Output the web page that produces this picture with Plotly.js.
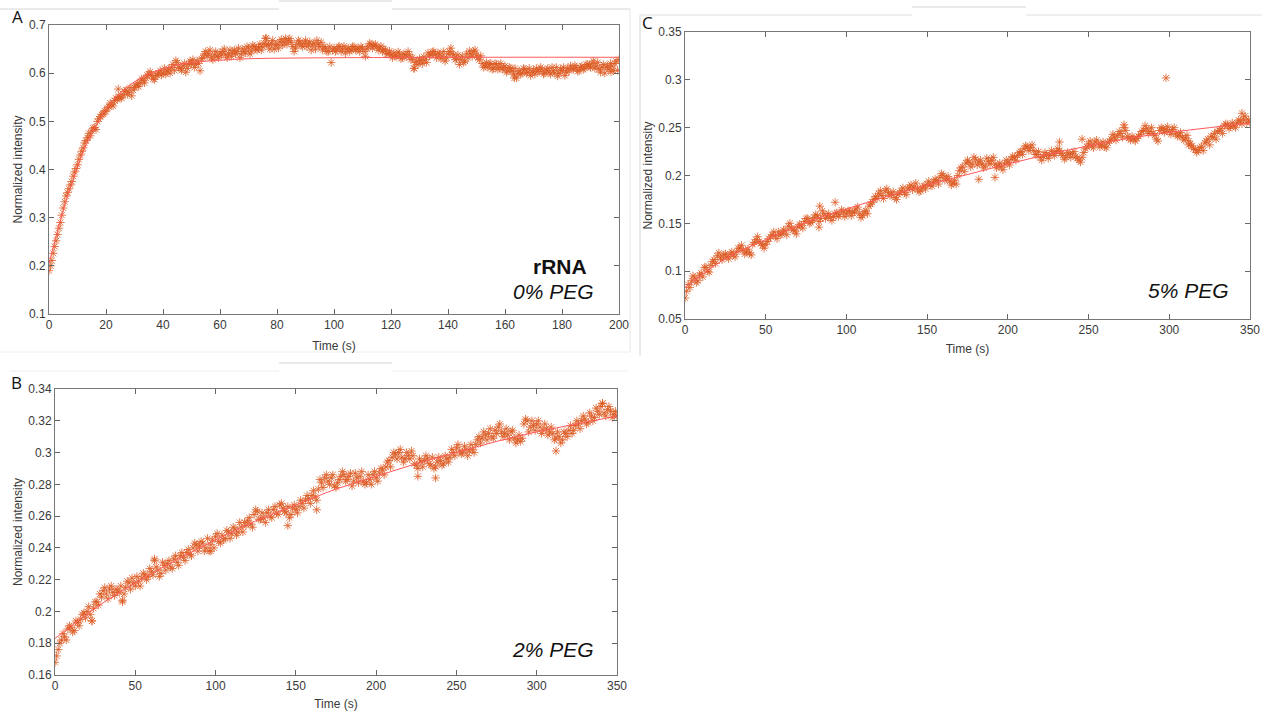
<!DOCTYPE html>
<html>
<head>
<meta charset="utf-8">
<script src="https://cdn.plot.ly/plotly-3.0.1.min.js"></script>
<style>
html,body{margin:0;padding:0;background:#fff;}
#chart{width:1267px;height:715px;}
</style>
</head>
<body>
<div id="chart"></div>
<script>
// ---------------- DATA ----------------
// Panel A (rRNA, 0% PEG): samples on whole seconds (t = 0..200) and half seconds (t = 0.5..199.5)
const intensityA = [
0.190,0.211,0.240,0.265,0.290,0.320,0.345,0.360,0.375,0.395,
0.410,0.430,0.445,0.460,0.475,0.480,0.487,0.500,0.510,0.515,
0.520,0.530,0.535,0.543,0.545,0.550,0.555,0.565,0.560,0.553,
0.570,0.578,0.580,0.585,0.590,0.598,0.595,0.587,0.595,0.605,
0.600,0.598,0.608,0.612,0.606,0.622,0.610,0.615,0.602,0.618,
0.620,0.612,0.625,0.605,0.632,0.645,0.640,0.632,0.638,0.635,
0.642,0.645,0.638,0.640,0.635,0.648,0.645,0.632,0.650,0.642,
0.652,0.646,0.655,0.648,0.660,0.655,0.672,0.658,0.662,0.650,
0.660,0.665,0.658,0.672,0.668,0.664,0.645,0.660,0.665,0.655,
0.668,0.660,0.648,0.662,0.668,0.655,0.648,0.652,0.645,0.622,
0.652,0.648,0.655,0.650,0.642,0.652,0.648,0.655,0.650,0.645,
0.652,0.635,0.655,0.660,0.657,0.655,0.652,0.645,0.648,0.640,
0.638,0.642,0.635,0.640,0.632,0.638,0.645,0.628,0.610,0.625,
0.630,0.620,0.628,0.642,0.638,0.645,0.632,0.640,0.635,0.625,
0.640,0.652,0.638,0.630,0.618,0.635,0.625,0.632,0.640,0.645,
0.638,0.628,0.620,0.615,0.612,0.620,0.610,0.618,0.612,0.608,
0.615,0.605,0.610,0.598,0.590,0.605,0.600,0.608,0.602,0.595,
0.606,0.610,0.603,0.608,0.600,0.610,0.598,0.605,0.612,0.600,
0.605,0.595,0.610,0.615,0.608,0.612,0.605,0.615,0.610,0.618,
0.612,0.625,0.615,0.608,0.612,0.600,0.615,0.620,0.605,0.625,
0.628
];
const intensityAHalf = [
0.200,0.226,0.252,0.278,0.305,0.333,0.352,0.368,0.386,0.402,
0.421,0.438,0.455,0.466,0.470,0.486,0.483,0.505,0.514,0.522,
0.528,0.538,0.532,0.548,0.552,0.548,0.562,0.556,0.570,0.565,
0.575,0.572,0.588,0.580,0.596,0.603,0.588,0.598,0.600,0.596,
0.610,0.604,0.600,0.618,0.626,0.612,0.606,0.620,0.610,0.625,
0.628,0.618,0.620,0.630,0.640,0.636,0.648,0.628,0.645,0.632,
0.638,0.650,0.632,0.648,0.642,0.640,0.652,0.640,0.645,0.655,
0.640,0.658,0.650,0.654,0.648,0.662,0.660,0.650,0.668,0.658,
0.652,0.670,0.664,0.660,0.672,0.655,0.652,0.668,0.658,0.662,
0.655,0.665,0.658,0.650,0.660,0.664,0.655,0.645,0.655,0.648,
0.645,0.655,0.645,0.656,0.650,0.645,0.655,0.648,0.652,0.655,
0.645,0.650,0.662,0.652,0.660,0.648,0.656,0.650,0.640,0.646,
0.632,0.636,0.644,0.630,0.640,0.634,0.638,0.632,0.622,0.618,
0.626,0.634,0.622,0.636,0.644,0.638,0.642,0.630,0.645,0.632,
0.645,0.640,0.628,0.638,0.628,0.622,0.640,0.646,0.635,0.648,
0.632,0.636,0.612,0.622,0.618,0.608,0.620,0.608,0.620,0.612,
0.602,0.612,0.604,0.610,0.600,0.598,0.610,0.600,0.610,0.602,
0.598,0.604,0.612,0.598,0.606,0.602,0.612,0.600,0.594,0.608,
0.612,0.602,0.605,0.610,0.616,0.604,0.612,0.608,0.618,0.614,
0.620,0.610,0.622,0.602,0.618,0.612,0.608,0.615,0.620,0.606
];
const extraTimeA = [24.3,76.2,128.2,163.3,197.2];
const extraValA  = [0.567,0.673,0.610,0.590,0.603];
const fitTimeA = [0,2,4,6,8,10,12,14,16,18,20,25,30,35,40,45,50,60,70,80,100,150,200];
const fitValA  = [0.205,0.250,0.295,0.335,0.370,0.405,0.437,0.463,0.487,0.507,0.525,0.559,0.582,0.598,0.609,0.617,0.622,0.627,0.630,0.631,0.632,0.633,0.633];

// Panel B (2% PEG): samples on even seconds (t = 0..350) and odd seconds (t = 1..349)
const intensityB = [
0.168,0.176,0.182,0.184,0.189,0.190,0.188,0.193,0.195,0.199,
0.200,0.198,0.202,0.206,0.211,0.213,0.211,0.214,0.212,0.214,
0.212,0.207,0.215,0.218,0.221,0.216,0.219,0.221,0.223,0.222,
0.225,0.232,0.226,0.224,0.229,0.230,0.228,0.233,0.231,0.235,
0.234,0.237,0.236,0.240,0.242,0.241,0.243,0.240,0.238,0.245,
0.247,0.244,0.248,0.246,0.250,0.249,0.252,0.250,0.253,0.256,
0.257,0.255,0.261,0.263,0.258,0.259,0.262,0.260,0.264,0.262,
0.267,0.265,0.262,0.259,0.265,0.264,0.266,0.268,0.270,0.271,
0.273,0.272,0.277,0.281,0.284,0.282,0.284,0.279,0.281,0.285,
0.286,0.283,0.287,0.282,0.284,0.285,0.282,0.281,0.283,0.286,
0.284,0.287,0.289,0.291,0.295,0.297,0.299,0.300,0.297,0.296,
0.298,0.301,0.293,0.290,0.294,0.295,0.296,0.292,0.290,0.294,
0.295,0.293,0.296,0.297,0.300,0.303,0.301,0.300,0.302,0.301,
0.302,0.305,0.310,0.309,0.311,0.312,0.310,0.314,0.316,0.313,
0.312,0.311,0.313,0.309,0.308,0.307,0.318,0.320,0.316,0.317,
0.318,0.316,0.314,0.315,0.313,0.312,0.309,0.310,0.308,0.312,
0.314,0.312,0.317,0.318,0.320,0.321,0.319,0.323,0.322,0.326,
0.329,0.325,0.327,0.326,0.324,0.323
];
const intensityBOdd = [
0.172,0.180,0.186,0.182,0.191,0.187,0.194,0.191,0.198,0.196,
0.203,0.194,0.206,0.204,0.209,0.215,0.208,0.216,0.210,0.213,
0.216,0.211,0.219,0.214,0.218,0.222,0.216,0.224,0.220,0.227,
0.223,0.228,0.222,0.231,0.226,0.232,0.227,0.235,0.229,0.237,
0.232,0.239,0.235,0.243,0.238,0.244,0.238,0.246,0.242,0.240,
0.249,0.243,0.245,0.251,0.246,0.253,0.248,0.256,0.250,0.254,
0.259,0.253,0.264,0.258,0.262,0.256,0.264,0.259,0.266,0.261,
0.268,0.263,0.266,0.261,0.267,0.262,0.270,0.265,0.273,0.268,
0.276,0.270,0.283,0.278,0.286,0.280,0.286,0.278,0.283,0.288,
0.282,0.285,0.279,0.287,0.281,0.288,0.280,0.286,0.280,0.288,
0.282,0.290,0.286,0.294,0.291,0.300,0.296,0.302,0.294,0.300,
0.296,0.298,0.292,0.296,0.291,0.298,0.293,0.297,0.291,0.297,
0.292,0.298,0.294,0.302,0.298,0.305,0.299,0.304,0.298,0.305,
0.300,0.308,0.306,0.313,0.308,0.315,0.309,0.312,0.318,0.310,
0.315,0.308,0.314,0.306,0.311,0.309,0.321,0.313,0.320,0.314,
0.320,0.312,0.318,0.311,0.316,0.308,0.313,0.306,0.313,0.310,
0.317,0.314,0.320,0.315,0.323,0.318,0.325,0.320,0.328,0.324,
0.331,0.323,0.329,0.322,0.326
];
const extraTimeB = [23,42,62,97,145,163,226,237,312,341];
const extraValB  = [0.194,0.206,0.233,0.238,0.254,0.264,0.285,0.284,0.301,0.331];
const fitTimeB = [0,25,50,75,100,125,150,175,200,225,250,275,300,325,350];
const fitValB  = [0.183,0.202,0.218,0.232,0.245,0.257,0.267,0.277,0.285,0.293,0.300,0.307,0.313,0.318,0.323];

// Panel C (5% PEG): samples on even seconds (t = 0..350) and odd seconds (t = 1..349)
const intensityC = [
0.072,0.086,0.090,0.093,0.090,0.098,0.104,0.100,0.106,0.112,
0.116,0.114,0.117,0.115,0.118,0.117,0.120,0.124,0.122,0.120,
0.119,0.128,0.133,0.131,0.127,0.128,0.134,0.138,0.137,0.141,
0.139,0.142,0.147,0.145,0.142,0.146,0.148,0.152,0.155,0.151,
0.156,0.158,0.155,0.160,0.158,0.156,0.157,0.161,0.159,0.162,
0.160,0.163,0.161,0.165,0.160,0.158,0.163,0.168,0.172,0.178,
0.181,0.179,0.184,0.182,0.180,0.177,0.180,0.184,0.182,0.186,
0.190,0.188,0.186,0.184,0.189,0.191,0.190,0.193,0.195,0.198,
0.200,0.197,0.194,0.192,0.191,0.205,0.209,0.213,0.214,0.212,
0.217,0.214,0.212,0.210,0.215,0.216,0.212,0.210,0.209,0.212,
0.214,0.217,0.219,0.221,0.225,0.228,0.230,0.229,0.226,0.222,
0.219,0.220,0.222,0.221,0.223,0.225,0.226,0.221,0.219,0.222,
0.223,0.220,0.216,0.219,0.228,0.233,0.231,0.235,0.233,0.232,
0.230,0.234,0.238,0.240,0.242,0.244,0.250,0.241,0.237,0.238,
0.239,0.243,0.247,0.249,0.246,0.244,0.238,0.247,0.249,0.248,
0.246,0.248,0.244,0.242,0.240,0.239,0.236,0.231,0.227,0.226,
0.230,0.234,0.238,0.241,0.244,0.246,0.249,0.252,0.253,0.251,
0.252,0.255,0.257,0.259,0.255,0.256
];
const intensityCOdd = [
0.079,0.083,0.095,0.088,0.096,0.094,0.104,0.099,0.110,0.108,
0.119,0.112,0.118,0.113,0.120,0.115,0.124,0.127,0.118,0.123,
0.117,0.130,0.136,0.129,0.124,0.131,0.136,0.141,0.134,0.138,
0.143,0.138,0.150,0.143,0.139,0.149,0.145,0.155,0.150,0.153,
0.159,0.152,0.163,0.155,0.160,0.153,0.160,0.157,0.164,0.157,
0.163,0.158,0.162,0.167,0.156,0.162,0.160,0.170,0.175,0.176,
0.184,0.176,0.186,0.179,0.183,0.175,0.182,0.187,0.180,0.188,
0.185,0.192,0.183,0.188,0.186,0.194,0.189,0.196,0.191,0.202,
0.195,0.199,0.190,0.195,0.200,0.208,0.204,0.216,0.209,0.219,
0.211,0.216,0.208,0.218,0.212,0.219,0.208,0.213,0.206,0.216,
0.211,0.220,0.216,0.224,0.222,0.231,0.226,0.232,0.222,0.225,
0.216,0.224,0.218,0.226,0.221,0.228,0.223,0.217,0.224,0.219,
0.225,0.218,0.214,0.224,0.230,0.236,0.229,0.237,0.230,0.235,
0.229,0.236,0.243,0.237,0.246,0.240,0.247,0.239,0.241,0.236,
0.241,0.246,0.252,0.244,0.250,0.242,0.236,0.250,0.245,0.251,
0.243,0.250,0.241,0.245,0.237,0.242,0.233,0.228,0.224,0.229,
0.226,0.236,0.232,0.240,0.238,0.247,0.244,0.254,0.249,0.255,
0.250,0.258,0.254,0.262,0.258
];
const extraTimeC = [83,83.5,93,182,192,232,246,272,298,312,345];
const extraValC  = [0.146,0.168,0.172,0.196,0.198,0.235,0.238,0.253,0.302,0.232,0.265];
const fitTimeC = [0,25,50,75,100,125,150,175,200,225,250,275,300,325,350];
const fitValC  = [0.083,0.113,0.133,0.151,0.165,0.178,0.190,0.201,0.212,0.222,0.231,0.239,0.245,0.250,0.255];

// Axis ticks
const ticksXA = [0,20,40,60,80,100,120,140,160,180,200];
const ticksYA = [0.1,0.2,0.3,0.4,0.5,0.6,0.7];
const labelsYA = ['0.1','0.2','0.3','0.4','0.5','0.6','0.7'];
const ticksXB = [0,50,100,150,200,250,300,350];
const ticksYB = [0.16,0.18,0.2,0.22,0.24,0.26,0.28,0.3,0.32,0.34];
const labelsYB = ['0.16','0.18','0.2','0.22','0.24','0.26','0.28','0.3','0.32','0.34'];
const ticksYC = [0.05,0.1,0.15,0.2,0.25,0.3,0.35];
const labelsYC = ['0.05','0.1','0.15','0.2','0.25','0.3','0.35'];

// ---------------- DRAWING ----------------
const W = 1267, H = 715;
const px = x => x / W;
const py = y => 1 - y / H;

const ORANGE = '#DC5A22';
const FIT = '#FF5A5A';
const FONT = 'Liberation Sans, Arial, sans-serif';

// sample times for a regularly sampled series
function timesFor(vals, step, start){ return vals.map((_, i) => start + i * step); }

function scatter(x, y, xa, ya){
  return {x, y, xaxis: xa, yaxis: ya, type: 'scatter', mode: 'markers', hoverinfo: 'skip',
    marker: {symbol: 'asterisk-open', size: 7, color: ORANGE, opacity: 0.8,
             line: {width: 1, color: ORANGE}}};
}
function fitLine(x, y, xa, ya){
  return {x, y, xaxis: xa, yaxis: ya, type: 'scatter', mode: 'lines', hoverinfo: 'skip',
    line: {color: FIT, width: 1, shape: 'spline'}};
}

const traces = [
  scatter(timesFor(intensityA, 1, 0), intensityA, 'x', 'y'),
  scatter(timesFor(intensityAHalf, 1, 0.5), intensityAHalf, 'x', 'y'),
  scatter(extraTimeA, extraValA, 'x', 'y'),
  fitLine(fitTimeA, fitValA, 'x', 'y'),
  scatter(timesFor(intensityB, 2, 0), intensityB, 'x2', 'y2'),
  scatter(timesFor(intensityBOdd, 2, 1), intensityBOdd, 'x2', 'y2'),
  scatter(extraTimeB, extraValB, 'x2', 'y2'),
  fitLine(fitTimeB, fitValB, 'x2', 'y2'),
  scatter(timesFor(intensityC, 2, 0), intensityC, 'x3', 'y3'),
  scatter(timesFor(intensityCOdd, 2, 1), intensityCOdd, 'x3', 'y3'),
  scatter(extraTimeC, extraValC, 'x3', 'y3'),
  fitLine(fitTimeC, fitValC, 'x3', 'y3')
];

function axis(domain, range, vals, texts, title, anchor, standoff){
  return {
    domain, range, anchor, autorange: false, fixedrange: true,
    tickmode: 'array', tickvals: vals, ticktext: texts || vals.map(String),
    ticks: 'inside', ticklen: 5, tickcolor: '#666', tickwidth: 1,
    showline: true, linecolor: '#777', linewidth: 1, mirror: 'ticks',
    showgrid: false, zeroline: false, automargin: false,
    tickfont: {family: FONT, size: 12, color: '#3a3a3a'},
    title: {text: title, font: {family: FONT, size: 12, color: '#3a3a3a'}, standoff: standoff}
  };
}

function label(text, x, y, size, family){
  return {text, x: px(x), y: py(y), xref: 'paper', yref: 'paper', showarrow: false,
          xanchor: 'center', yanchor: 'middle',
          font: {family: family || FONT, size: size, color: '#111'}};
}

const edge = (x0, y0, x1, y1, c) => ({type: 'line', xref: 'paper', yref: 'paper',
  x0: px(x0), x1: px(x1), y0: py(y0), y1: py(y1), line: {color: c, width: 1}});

const layout = {
  width: W, height: H,
  margin: {l: 0, r: 0, t: 0, b: 0},
  paper_bgcolor: '#fff', plot_bgcolor: '#fff',
  showlegend: false,
  xaxis:  axis([px(49), px(619)], [0, 200], ticksXA, null, 'Time (s)', 'y', 10),
  yaxis:  axis([py(314), py(25)], [0.1, 0.7], ticksYA, labelsYA, 'Normalized intensity', 'x', 3),
  xaxis2: axis([px(55), px(617)], [0, 350], ticksXB, null, 'Time (s)', 'y2', 7),
  yaxis2: axis([py(675), py(389)], [0.16, 0.34], ticksYB, labelsYB, 'Normalized intensity', 'x2', 3),
  xaxis3: axis([px(685), px(1250)], [0, 350], ticksXB, null, 'Time (s)', 'y3', 8),
  yaxis3: axis([py(319), py(32)], [0.05, 0.35], ticksYC, labelsYC, 'Normalized intensity', 'x3', 3),
  annotations: [
    label('<b>rRNA</b>', 560, 267, 21),
    label('<i>0% PEG</i>', 553, 291, 21),
    label('<i>2% PEG</i>', 553, 649, 21),
    label('<i>5% PEG</i>', 1188, 290, 21),
    label('A', 17, 16, 17, 'Open Sans, sans-serif'),
    label('B', 16, 382, 17, 'Open Sans, sans-serif'),
    label('C', 647, 22, 17, 'Open Sans, sans-serif')
  ],
  shapes: [
    edge(0, 9, 279, 9, '#d6d6d6'),
    edge(279, 1, 392, 1, '#d6d6d6'),
    edge(392, 9, 630, 9, '#d6d6d6'),
    edge(630, 9, 630, 352, '#e6e6e6'),
    edge(0, 352, 630, 352, '#eeeeee'),
    edge(640, 15, 912, 15, '#e0e0e0'),
    edge(912, 7, 1026, 7, '#d6d6d6'),
    edge(1026, 15, 1262, 15, '#e0e0e0'),
    edge(640, 15, 640, 356, '#d6d6d6'),
    edge(10, 371, 279, 371, '#eeeeee'),
    edge(279, 363, 392, 363, '#d6d6d6'),
    edge(392, 371, 628, 371, '#eeeeee')
  ]
};

Plotly.newPlot('chart', traces, layout, {displayModeBar: false, staticPlot: true});
</script>
</body>
</html>
